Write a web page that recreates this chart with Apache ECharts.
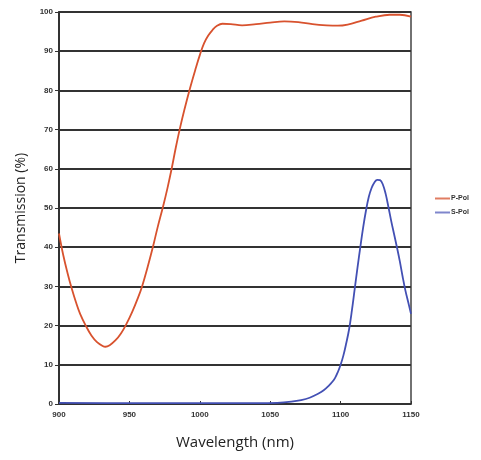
<!DOCTYPE html>
<html><head><meta charset="utf-8">
<script src="https://cdn.jsdelivr.net/npm/echarts@6/dist/echarts.min.js"></script>
<style>html,body{margin:0;padding:0;background:#fff}#c{width:481px;height:460px}</style>
</head><body><div id="c"></div>
<script>
const pPolWavelength = [900,903,906,909,912,915,919,923,927,931,933,936,940,944,948,952,956,959,963,967,970,974,977,980,983,986,989,993,997,1000,1003,1006,1009,1012,1016,1022,1030,1040,1050,1060,1070,1080,1090,1098,1105,1115,1125,1135,1142,1150];
const pPolValues = [43.5,38,33.5,29.5,26,23,20,17.5,15.8,14.8,14.6,15,16.2,18,20.5,23.5,27,30,35,40.5,45,50.5,55,60,65.5,70.5,75,80.5,85.5,89,92,94,95.4,96.4,97,96.9,96.6,96.9,97.3,97.6,97.4,96.9,96.6,96.5,96.8,97.8,98.8,99.3,99.3,98.8];
const sPolWavelength = [900,950,1000,1040,1055,1065,1072,1078,1084,1088,1092,1094,1096,1098,1100,1102,1104,1106,1108,1110,1112,1114,1116,1118,1120,1122,1124,1126,1128,1130,1132,1134,1136,1138,1140,1142,1144,1146,1148,1150];
const sPolValues = [0.3,0.2,0.2,0.2,0.3,0.6,1,1.6,2.6,3.5,4.8,5.6,6.6,8.1,10,12.4,15.5,19,23.8,29.3,34.8,40,45,49.3,52.8,55.1,56.5,57.2,57.1,56,53.6,50.2,46.6,43.3,40,36.5,32.6,29,26,23];
const seriesNames = ['P-Pol','S-Pol'];
const xTicks = {min:900,max:1150,interval:50};
const yTicks = {min:0,max:100,interval:10};

const chart = echarts.init(document.getElementById('c'));
const pair = (xs, ys) => xs.map((x,i)=>[x, ys[i]]);
const labelFont = 'Liberation Sans Narrow, Liberation Sans';
chart.setOption({
  animation:false,
  grid:{left:59,right:70,top:12,bottom:56,show:true,borderColor:'#444',borderWidth:1.5},
  legend:{
    orient:'vertical', left:430, top:190, itemWidth:15, itemHeight:2, itemGap:7,
    icon:'rect',
    textStyle:{fontSize:7,fontWeight:'bold',color:'#333',fontFamily:labelFont,padding:[0,0,0,-4]},
    data:seriesNames
  },
  xAxis:{
    type:'value', min:xTicks.min, max:xTicks.max, interval:xTicks.interval,
    name:'Wavelength (nm)', nameLocation:'middle', nameGap:31,
    nameTextStyle:{fontSize:15,color:'#222',fontFamily:'Open Sans'},
    axisLine:{lineStyle:{color:'#333',width:1.5}},
    axisTick:{show:true,length:3,inside:true,lineStyle:{color:'#333'}},
    axisLabel:{fontSize:8,fontWeight:'bold',color:'#333',margin:7,fontFamily:labelFont,formatter:v=>String(v)},
    splitLine:{show:false}
  },
  yAxis:{
    type:'value', min:yTicks.min, max:yTicks.max, interval:yTicks.interval,
    name:'Transmission (%)', nameLocation:'middle', nameGap:31,
    nameTextStyle:{fontSize:14,color:'#222',fontFamily:'Open Sans'},
    axisLine:{show:true,lineStyle:{color:'#333',width:2}},
    axisTick:{show:true,length:4,lineStyle:{color:'#333'}},
    axisLabel:{fontSize:8,fontWeight:'bold',color:'#333',margin:6,fontFamily:labelFont},
    splitLine:{show:true,lineStyle:{color:'#333',width:2}}
  },
  series:[
    {name:seriesNames[0],type:'line',data:pair(pPolWavelength,pPolValues),smooth:0.4,showSymbol:false,
     lineStyle:{color:'#d8522e',width:1.8},itemStyle:{color:'#e07d62'}},
    {name:seriesNames[1],type:'line',data:pair(sPolWavelength,sPolValues),smooth:0.4,showSymbol:false,
     lineStyle:{color:'#4350b4',width:1.8},itemStyle:{color:'#7f86cc'}}
  ]
});
</script></body></html>
